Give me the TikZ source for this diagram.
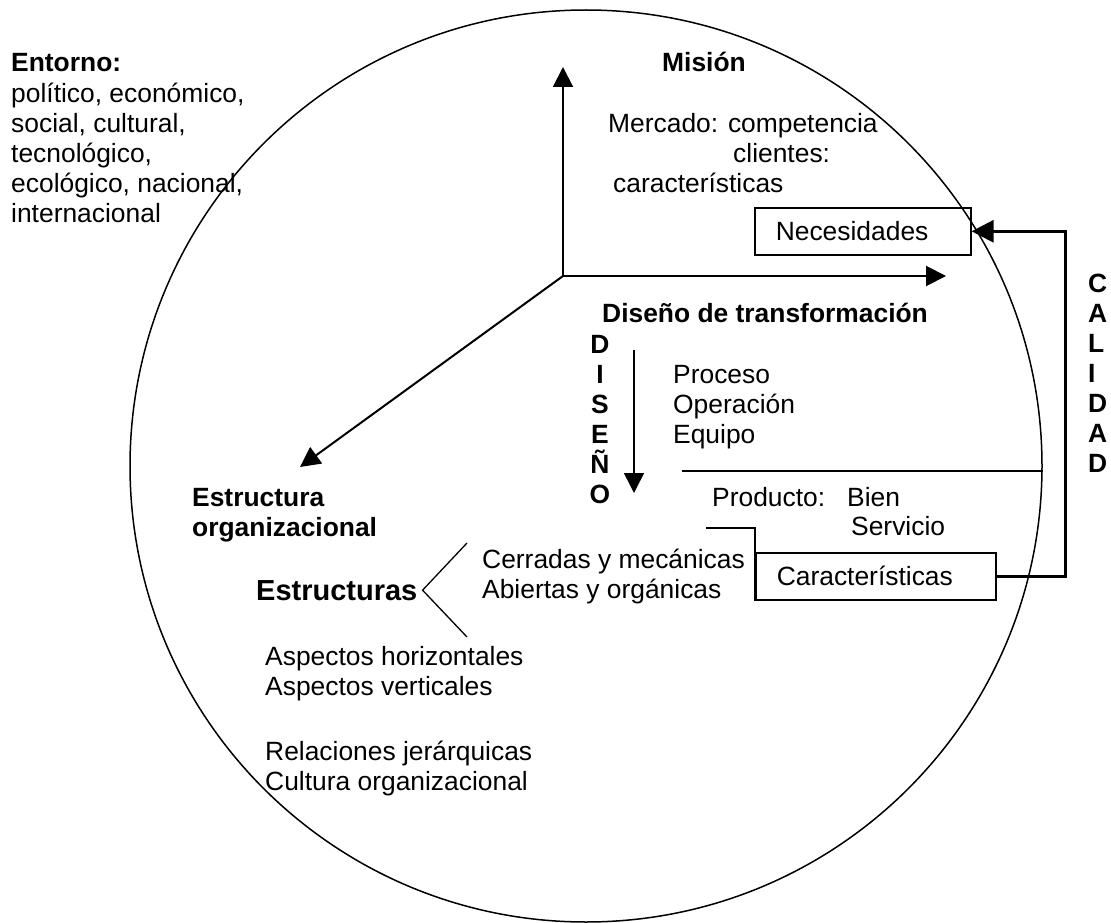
\documentclass[tikz,border=0pt]{standalone}
\usepackage{fontspec}
\setmainfont{Liberation Sans}
\usetikzlibrary{arrows.meta}

\tikzset{
    txt/.style={anchor=base west, inner sep=0pt, align=left, font=\fontsize{26.4}{30}\selectfont},
    hd/.style={txt, font=\fontsize{26.4}{30}\selectfont\bfseries},
    box/.style={draw, line width=1.6pt, anchor=north west, inner xsep=21pt, inner ysep=0pt,
        minimum height=47pt, align=left, font=\fontsize{26.4}{30}\selectfont},
    axis/.style={line width=2pt, -{Triangle[length=20pt,width=20pt]}},
    fb/.style={line width=3pt, -{Triangle[length=22pt,width=22pt]}}
}

\begin{document}
\begin{tikzpicture}[x=1pt,y=-1pt]
\useasboundingbox (0,0) rectangle (1111,923);

% the environment (multi-line nodes sit on their last baseline)
\node[draw, circle, line width=1.5pt, minimum size=912pt, inner sep=0pt] (world) at (586,466) {};
\node[txt] (entorno) at (11,222) {\textbf{Entorno:}\\político, económico,\\social, cultural,\\tecnológico,\\ecológico, nacional,\\internacional};

% axes
\coordinate (o) at (563,276);
\coordinate (up) at (563,67);
\coordinate (rt) at (946,276);
\coordinate (dl) at (300,467);
\draw[axis] (o) -- (up);
\draw[axis] (o) -- (rt);
\draw[axis] (o) -- (dl);

% mision
\node[hd] (mision) at (662,72) {Misión};
\node[txt] (mercado) at (608,132) {Mercado: competencia};
\node[txt] (clientes) at (733,162) {clientes:};
\node[txt] (caract) at (613,192) {características};
\node[box, text width=174pt] (neces) at (754,207) {Necesidades};

% diseno
\node[hd] (diseno) at (602,322) {Diseño de transformación};
\node[hd, anchor=base, align=center] (disword) at (600,503) {D\\I\\S\\E\\Ñ\\O};
\coordinate (dtop) at (634,350);
\coordinate (dbot) at (634,493);
\draw[axis, line width=1.5pt] (dtop) -- (dbot);
\node[txt] (proc) at (673,443) {Proceso\\Operación\\Equipo};
\coordinate (hl) at (682,471);
\draw[line width=1.6pt] (hl) -- (hl -| world.east);
\node[txt] (prod) at (712,506) {Producto:};
\node[txt] (bien) at (847,506) {Bien};
\node[txt] (serv) at (851,535) {Servicio};
\node[box, text width=198pt] (carac) at (755,552) {Características};
\coordinate (pe) at (706,528);
\draw[line width=1.6pt] (carac.south west) |- (pe);

% calidad
\node[hd] (calidad) at (1088,472) {C\\A\\L\\I\\D\\A\\D};
\coordinate (qx) at (1065,400);
\draw[fb] (carac.east) -- (carac.east -| qx) |- (neces.east);

% estructura
\node[hd] (estrorg) at (192,536) {Estructura\\organizacional};
\node[txt, font=\fontsize{29}{33}\selectfont\bfseries] (estr) at (256,600) {Estructuras};
\coordinate (brA) at (467,543);
\coordinate (brB) at (467,637);
\draw[line width=1.3pt] (brA) -- ([xshift=5pt]estr.east) -- (brB);
\node[txt] (cerr) at (482,598) {Cerradas y mecánicas\\Abiertas y orgánicas};
\node[txt] (asp) at (265,695) {Aspectos horizontales\\Aspectos verticales};
\node[txt] (rel) at (265,790) {Relaciones jerárquicas\\Cultura organizacional};
\end{tikzpicture}
\end{document}
